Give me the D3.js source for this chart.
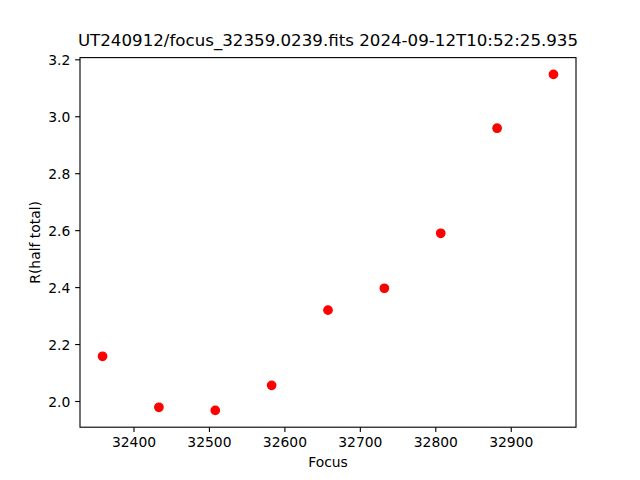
<!DOCTYPE html>
<html>
<head>
<meta charset="utf-8">
<script src="https://cdn.jsdelivr.net/npm/d3@7"></script>
<style>
  html, body { margin: 0; padding: 0; background: #fff; }
  svg { display: block; font-family: "DejaVu Sans", sans-serif; }
</style>
</head>
<body>
<svg id="chart" width="640" height="480"></svg>
<script>
const focusValues = [32359.0, 32433.7, 32508.4, 32583.1, 32657.8, 32732.5, 32807.2, 32881.9, 32956.6];
const radiusValues = [2.157, 1.978, 1.967, 2.055, 2.319, 2.396, 2.589, 2.958, 3.147];
const xTickValues = [32400, 32500, 32600, 32700, 32800, 32900];
const yTickValues = [2.0, 2.2, 2.4, 2.6, 2.8, 3.0, 3.2];
const titleText = "UT240912/focus_32359.0239.fits 2024-09-12T10:52:25.935";
const xLabelText = "Focus";
const yLabelText = "R(half total)";

(function () {
const W = 640, H = 480;
const mLeft = 80, mRight = 576, mTop = 57.6, mBottom = 427.2;

function padded(vals) {
  const [a, b] = d3.extent(vals);
  const m = (b - a) * 0.05;
  return [a - m, b + m];
}

const x = d3.scaleLinear().domain(padded(focusValues)).range([mLeft, mRight]);
const y = d3.scaleLinear().domain(padded(radiusValues)).range([mBottom, mTop]);

const svg = d3.select("#chart");
svg.append("rect").attr("width", W).attr("height", H).attr("fill", "#fff");

const tickLen = 4.86, tickPad = 4.86, fs = 13.89;

const xAxis = d3.axisBottom(x).tickValues(xTickValues).tickFormat(d3.format("d"))
  .tickSize(tickLen).tickPadding(tickPad);
const gx = svg.append("g").attr("transform", `translate(0,${mBottom})`).call(xAxis);
const yAxis = d3.axisLeft(y).tickValues(yTickValues).tickFormat(d3.format(".1f"))
  .tickSize(tickLen).tickPadding(tickPad);
const gy = svg.append("g").attr("transform", `translate(${mLeft},0)`).call(yAxis);

[gx, gy].forEach(g => {
  g.select(".domain").remove();
  g.selectAll(".tick line").attr("stroke", "#000").attr("stroke-width", 1.11);
  g.selectAll(".tick text").attr("fill", "#000")
    .style("font-family", '"DejaVu Sans", sans-serif').style("font-size", fs + "px");
});
gx.selectAll(".tick text").attr("dy", "0.76em");
gy.selectAll(".tick text").attr("dy", "0.36em");

svg.append("rect").attr("x", mLeft).attr("y", mTop)
  .attr("width", mRight - mLeft).attr("height", mBottom - mTop)
  .attr("fill", "none").attr("stroke", "#000").attr("stroke-width", 1.11);

svg.append("g").selectAll("circle")
  .data(focusValues.map((f, i) => [f, radiusValues[i]]))
  .join("circle")
  .attr("cx", d => x(d[0])).attr("cy", d => y(d[1]))
  .attr("r", 4.17).attr("fill", "#ff0000")
  .attr("stroke", "#ff0000").attr("stroke-width", 1.39);

svg.append("text").attr("x", (mLeft + mRight) / 2).attr("y", mTop - 8.33 - 3.5)
  .attr("text-anchor", "middle").style("font-size", "16.67px").attr("fill", "#000")
  .text(titleText);

svg.append("text").attr("x", (mLeft + mRight) / 2).attr("y", 467)
  .attr("text-anchor", "middle").style("font-size", fs + "px").attr("fill", "#000")
  .text(xLabelText);

svg.append("text")
  .attr("transform", `translate(39.5,${(mTop + mBottom) / 2}) rotate(-90)`)
  .attr("text-anchor", "middle").style("font-size", fs + "px").attr("fill", "#000")
  .text(yLabelText);
})();
</script>
</body>
</html>
